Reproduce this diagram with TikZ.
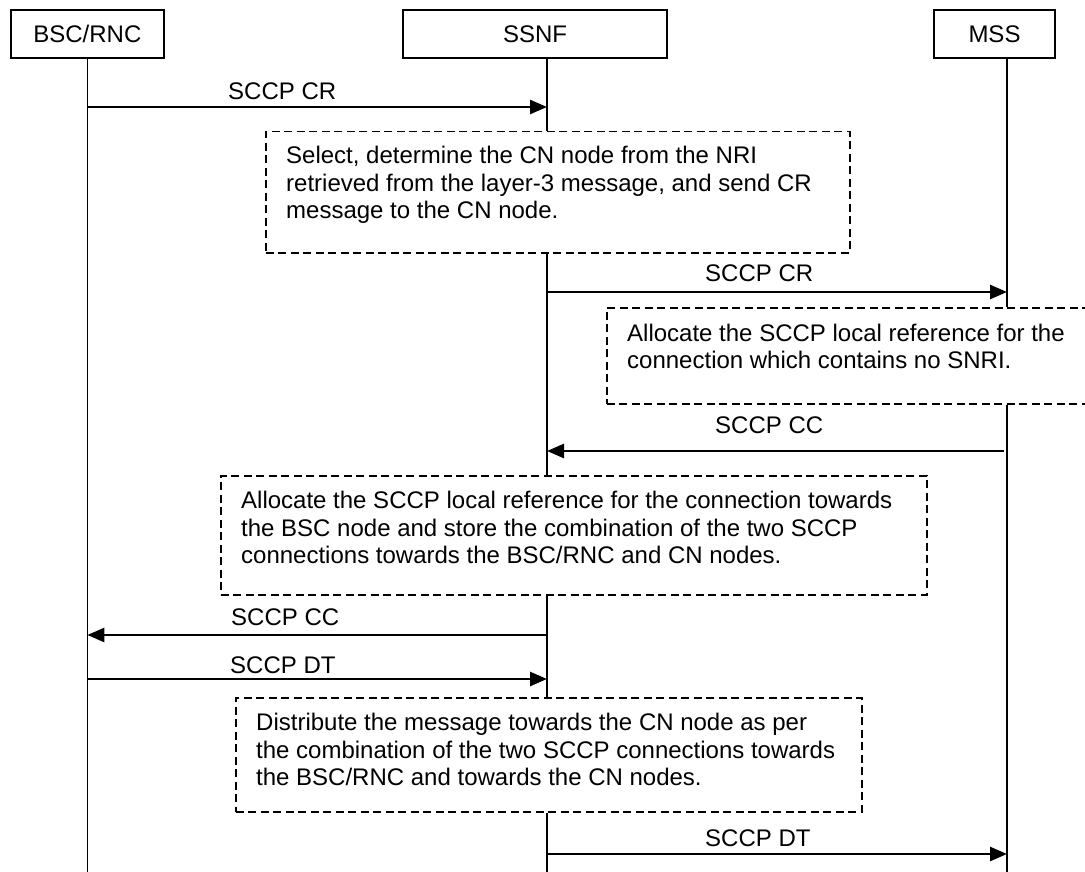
\documentclass[tikz,border=0pt]{standalone}
\usepackage{fontspec}
\setmainfont{Liberation Sans}
\usetikzlibrary{arrows.meta}
\begin{document}
\begin{tikzpicture}[x=1pt,y=-1pt,
  every node/.style={font=\fontsize{24}{27.5}\selectfont},
  hdr/.style={draw, line width=1.7pt, minimum height=48pt, inner sep=0pt},
  note/.style={draw, dash pattern=on 8pt off 4.5pt, line width=1.5pt, inner sep=0pt, anchor=north west},
  notetext/.style={anchor=north west, align=left, inner sep=0pt},
  life/.style={line width=1.6pt},
  msg/.style={line width=2.6pt, -{Triangle[length=17pt,width=14pt]}},
  lbl/.style={anchor=base west, inner sep=0pt}]
\path[fill=white] (0,0) rectangle (1085,872);
\useasboundingbox (0,0) rectangle (1085,872);

% header boxes
\node[hdr, minimum width=153.3pt] (bsc) at (87.35,34) {BSC/RNC};
\node[hdr, minimum width=264pt] (ssnf) at (535,34) {SSNF};
\node[hdr, minimum width=121pt] (mss) at (994.5,34) {MSS};

% lifeline end points
\coordinate (bscT) at (87.35,58);
\coordinate (bscB) at (87.35,872);
\coordinate (ssnfT) at (547,58);
\coordinate (ssnfB) at (547,872);
\coordinate (mssT) at (1007,58);
\coordinate (mssB) at (1007,872);

% dashed note boxes
\node[note, minimum width=584pt, minimum height=121pt] (box1) at (265,131) {};
\node[note, minimum width=500pt, minimum height=96pt] (box2) at (606,307) {};
\node[note, minimum width=706pt, minimum height=119pt] (box3) at (220,475) {};
\node[note, minimum width=626pt, minimum height=114pt] (box4) at (235,697) {};

\node[notetext] (t1) at (286,144.25) {\strut Select, determine the CN node from the NRI\\retrieved from the layer-3 message, and send CR\\message to the CN node.};
\node[notetext] (t2) at (627,321.75) {\strut Allocate the SCCP local reference for the\\connection which contains no SNRI.};
\node[notetext] (t3) at (241,489.25) {\strut Allocate the SCCP local reference for the connection towards\\the BSC node and store the combination of the two SCCP\\connections towards the BSC/RNC and CN nodes.};
\node[notetext] (t4) at (256,711.25) {\strut Distribute the message towards the CN node as per\\the combination of the two SCCP connections towards\\the BSC/RNC and towards the CN nodes.};

% lifelines
\draw[life] (bscT) -- (bscB);
\draw[life] (ssnfT) -- (box1.north -| ssnfT);
\draw[life] (box1.south -| ssnfT) -- (box3.north -| ssnfT);
\draw[life] (box3.south -| ssnfT) -- (box4.north -| ssnfT);
\draw[life] (box4.south -| ssnfT) -- (ssnfB);
\draw[life] (mssT) -- (box2.north -| mssT);
\draw[life] (box2.south -| mssT) -- (mssB);

% messages
\coordinate (m1s) at (87.35,107); \coordinate (m1e) at (547,107);
\coordinate (m2s) at (547,292);   \coordinate (m2e) at (1007,292);
\coordinate (m3s) at (1004,451);  \coordinate (m3e) at (547,451);
\coordinate (m4s) at (547,635);   \coordinate (m4e) at (87.35,635);
\coordinate (m5s) at (87.35,679); \coordinate (m5e) at (547,679);
\coordinate (m6s) at (547,854);   \coordinate (m6e) at (1007,854);
\draw[msg] (m1s) -- (m1e);
\draw[msg] (m2s) -- (m2e);
\draw[msg] (m3s) -- (m3e);
\draw[msg] (m4s) -- (m4e);
\draw[msg] (m5s) -- (m5e);
\draw[msg] (m6s) -- (m6e);

\node[lbl] (l1) at (228,100) {SCCP CR};
\node[lbl] (l2) at (705,281) {SCCP CR};
\node[lbl] (l3) at (715,433) {SCCP CC};
\node[lbl] (l4) at (231,625) {SCCP CC};
\node[lbl] (l5) at (230,673) {SCCP DT};
\node[lbl] (l6) at (705,846) {SCCP DT};
\end{tikzpicture}
\end{document}
